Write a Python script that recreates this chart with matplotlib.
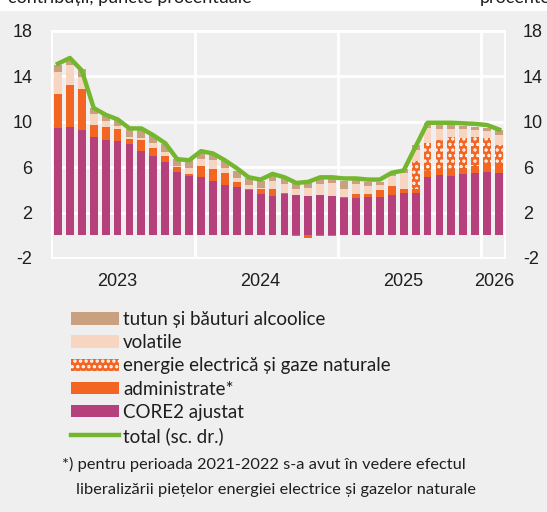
import numpy as np
import matplotlib
matplotlib.use("Agg")
import matplotlib.pyplot as plt
from matplotlib import font_manager
from matplotlib.patches import Patch, Rectangle
from matplotlib.lines import Line2D

# contributii la rata anuala a inflatiei, ian. 2023 - feb. 2026 (lunar)
core2 = [9.44, 9.53, 9.24, 8.65, 8.38, 8.29, 8.03, 7.41, 6.97, 6.44, 5.56, 5.21,
         5.12, 4.76, 4.41, 4.24, 3.97, 3.59, 3.44, 3.65, 3.53, 3.44, 3.53, 3.44,
         3.29, 3.24, 3.35, 3.38, 3.53, 3.68, 3.74, 5.12, 5.26, 5.21, 5.35, 5.50,
         5.59, 5.50]
administrate = [2.97, 3.68, 3.61, 1.06, 1.15, 1.06, 0.41, 0.94, 0.68, 0.53, 0.44, 0.15,
                0.97, 1.03, 1.03, 0.44, 0.09, 0.44, 0.59, 0.09, -0.10, -0.20, -0.10, -0.10,
                0.06, 0.35, 0.24, 0.56, 0.79, 0.41, 0.35, 0.53, 0.53, 0.53, 0.59, 0.59,
                0.65, 0.68]
energie = [0, 0, 0, 0, 0, 0, 0, 0, 0, 0, 0, 0,
           0, 0, 0, 0, 0, 0, 0, 0, 0, 0, 0, 0,
           0, 0, 0, 0, 0, 0, 2.44, 2.50, 2.59, 2.91, 2.59, 2.56,
           2.29, 1.80]
volatile = [2.00, 1.77, 1.12, 0.94, 0.50, 0.27, 0.24, 0.24, 0.50, 0.35, 0.09, 0.59,
            0.65, 0.80, 0.50, 0.38, 0.35, 0.15, 0.73, 0.74, 0.50, 0.74, 0.94, 1.12,
            0.74, 0.88, 0.73, 0.47, 0.88, 1.41, 0.97, 1.26, 1.00, 0.67, 0.79, 0.62,
            0.65, 0.80]
tutun = [0.56, 0.38, 0.65, 0.59, 0.53, 0.59, 0.70, 0.73, 0.64, 0.68, 0.59, 0.65,
         0.52, 0.53, 0.59, 0.59, 0.65, 0.59, 0.44, 0.59, 0.53, 0.50, 0.53, 0.44,
         0.67, 0.38, 0.38, 0.30, 0.29, 0.29, 0.41, 0.44, 0.30, 0.36, 0.30, 0.30,
         0.29, 0.50]
total = [15.1, 15.6, 14.5, 11.2, 10.6, 10.2, 9.4, 9.4, 8.8, 8.1, 6.7, 6.6,
         7.4, 7.2, 6.6, 5.9, 5.1, 4.9, 5.4, 5.1, 4.6, 4.7, 5.1, 5.1,
         5.0, 5.0, 4.9, 4.9, 5.5, 5.7, 7.8, 9.9, 9.9, 9.9, 9.85, 9.8,
         9.7, 9.3]

years = ["2023", "2024", "2025", "2026"]
year_pos = [5, 17, 29, 36.6]
year_breaks = [11.5, 23.5, 35.5]
yticks = [-2, 2, 6, 10, 14, 18]

BG = "#efefef"
c_core = "#b5407c"
c_adm = "#f26522"
c_vol = "#f8d5c0"
c_tut = "#c9a17f"
c_tot = "#74b72e"
txt = "#1e1e1e"

installed = {f.name for f in font_manager.fontManager.ttflist}
if "Liberation Sans Narrow" in installed:
    narrow = "Liberation Sans Narrow"
elif "Liberation Sans" in installed:
    narrow = "Liberation Sans"
else:
    narrow = "DejaVu Sans"
body = ["Lato", "DejaVu Sans"] if "Lato" in installed else ["DejaVu Sans"]

plt.rcParams["hatch.linewidth"] = 1.6
plt.rcParams["axes.unicode_minus"] = False

fig = plt.figure(figsize=(5.47, 5.12), dpi=100)
fig.patch.set_facecolor(BG)
fig.add_artist(Rectangle((0, 1 - 11 / 512), 1, 11 / 512, transform=fig.transFigure,
                         facecolor="white", edgecolor="none"))

ax = fig.add_axes([52 / 547, (512 - 258) / 512, 453 / 547, 227.3 / 512])
ax.set_facecolor(BG)

x = np.arange(len(core2))
w = 0.66
pos_bottom = np.zeros(len(x))
neg_bottom = np.zeros(len(x))
series = [(core2, c_core, None), (administrate, c_adm, None),
          (energie, c_adm, "..."), (volatile, c_vol, None), (tutun, c_tut, None)]
for vals, col, hatch in series:
    v = np.array(vals, dtype=float)
    b = np.where(v >= 0, pos_bottom, neg_bottom)
    if hatch:
        ax.bar(x, v, w, bottom=b, color=col, edgecolor="white", hatch=hatch, linewidth=0, zorder=2)
    else:
        ax.bar(x, v, w, bottom=b, color=col, linewidth=0, zorder=2)
    pos_bottom += np.where(v >= 0, v, 0)
    neg_bottom += np.where(v < 0, v, 0)

ax.plot(x, total, color=c_tot, lw=3.2, zorder=4, solid_joinstyle="round")

ax.set_xlim(-0.5, len(x) - 0.5)
ax.set_ylim(-2, 18)
ax.set_yticks(yticks)
ax.grid(axis="y", color="white", lw=2)
ax.set_axisbelow(True)
for xb in year_breaks:
    ax.axvline(xb, color="white", lw=2, zorder=1)
for s in ax.spines.values():
    s.set_color("white")
    s.set_linewidth(1.5)

ax.set_xticks(year_pos)
ax.set_xticklabels(years, fontfamily=narrow, fontsize=13, color=txt)
ax.tick_params(axis="x", length=0, pad=11)
ax.tick_params(axis="y", length=0, pad=14, labelsize=13, labelcolor=txt)
for t in ax.get_yticklabels():
    t.set_fontfamily(narrow)

ax2 = ax.twinx()
ax2.set_ylim(-2, 18)
ax2.set_yticks(yticks)
ax2.tick_params(axis="y", length=0, pad=13, labelsize=13, labelcolor=txt)
for t in ax2.get_yticklabels():
    t.set_fontfamily(narrow)
for s in ax2.spines.values():
    s.set_visible(False)

fig.text(8 / 547, 1 - 3.5 / 512, "contribuții, puncte procentuale", va="baseline",
         fontsize=13, family=body, color=txt)
fig.text(480 / 547, 1 - 3.5 / 512, "procente", va="baseline",
         fontsize=13, family=body, color=txt)

handles = [Patch(facecolor=c_tut, linewidth=0),
           Patch(facecolor=c_vol, linewidth=0),
           Patch(facecolor=c_adm, edgecolor="white", hatch="...", linewidth=0),
           Patch(facecolor=c_adm, linewidth=0),
           Patch(facecolor=c_core, linewidth=0),
           Line2D([0], [0], color=c_tot, lw=3.2)]
labels = ["tutun și băuturi alcoolice", "volatile", "energie electrică și gaze naturale",
          "administrate*", "CORE2 ajustat", "total (sc. dr.)"]
fig.legend(handles, labels, loc="upper left", bbox_to_anchor=(71 / 547, 1 - 311 / 512),
           frameon=False, prop={"family": body, "size": 13.5},
           labelcolor=txt, handlelength=2.55, handleheight=0.65, handletextpad=0.22,
           labelspacing=0.33, borderpad=0, borderaxespad=0)

fig.text(62 / 547, 1 - 464 / 512, "*) pentru perioada 2021-2022 s-a avut în vedere efectul",
         va="center", fontsize=11.8, family=body, color=txt)
fig.text(76 / 547, 1 - 490 / 512, "liberalizării piețelor energiei electrice și gazelor naturale",
         va="center", fontsize=11.8, family=body, color=txt)

fig.savefig("out.png", dpi=100, facecolor=fig.get_facecolor())
